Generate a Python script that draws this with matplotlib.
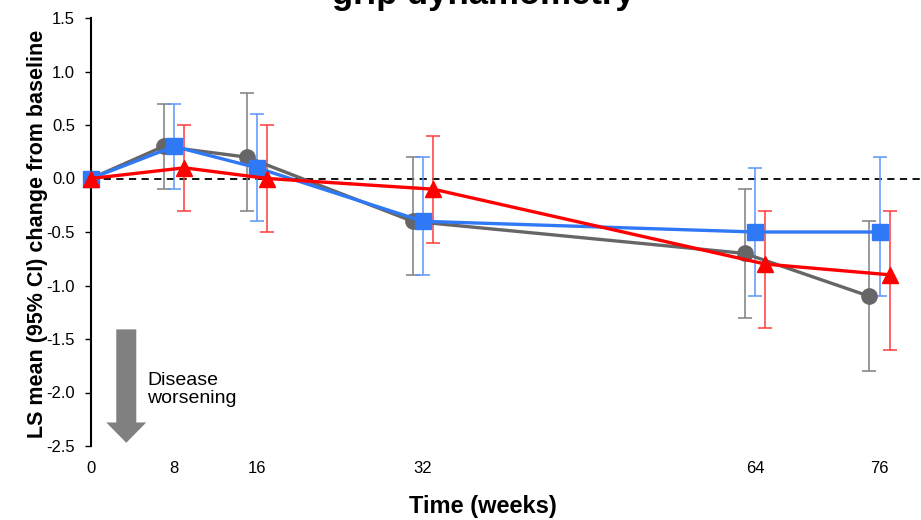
import matplotlib
matplotlib.use("Agg")
import matplotlib.pyplot as plt
from matplotlib.patches import FancyArrow
import numpy as np

plt.rcParams['font.family'] = ['Liberation Sans', 'DejaVu Sans']

weeks = [0, 8, 16, 32, 64, 76]
tick_labels = ["0", "8", "16", "32", "64", "76"]

gray_mean = [0.0, 0.3, 0.2, -0.4, -0.7, -1.1]
gray_lo = [0.0, -0.1, -0.3, -0.9, -1.3, -1.8]
gray_hi = [0.0, 0.7, 0.8, 0.2, -0.1, -0.4]

blue_mean = [0.0, 0.3, 0.1, -0.4, -0.5, -0.5]
blue_lo = [0.0, -0.1, -0.4, -0.9, -1.1, -1.1]
blue_hi = [0.0, 0.7, 0.6, 0.2, 0.1, 0.2]

red_mean = [0.0, 0.1, 0.0, -0.1, -0.8, -0.9]
red_lo = [0.0, -0.3, -0.5, -0.6, -1.4, -1.6]
red_hi = [0.0, 0.5, 0.5, 0.4, -0.3, -0.3]

W, H = 921, 520
fig = plt.figure(figsize=(W / 100, H / 100), dpi=100)
ax = fig.add_axes([91 / W, 1 - 446 / H, (921 - 91) / W, (446 - 18) / H])

wk = np.array(weeks, dtype=float)
offsets = {"gray": -1.0, "blue": 0.0, "red": 1.0}

def xpos(off):
    x = wk + off
    x[0] = 0.0
    return x

series = [
    ("gray", gray_mean, gray_lo, gray_hi, "#666666", "#7f7f7f", "o", 11),
    ("blue", blue_mean, blue_lo, blue_hi, "#2f78f6", "#5c94fa", "s", 11),
    ("red", red_mean, red_lo, red_hi, "#ff0000", "#ff3b3b", "^", 11),
]

ax.axhline(0, color="black", lw=1.3, ls=(0, (4, 3)), zorder=1)

for name, m, lo, hi, col, ecol, mk, ms in series:
    x = xpos(offsets[name])
    m = np.array(m); lo = np.array(lo); hi = np.array(hi)
    ax.errorbar(x[1:], m[1:], yerr=[m[1:] - lo[1:], hi[1:] - m[1:]], fmt="none",
                ecolor=ecol, elinewidth=1.1, capsize=5.3, capthick=1.1, zorder=2)
for name, m, lo, hi, col, ecol, mk, ms in series:
    x = xpos(offsets[name])
    ax.plot(x, m, color=col, lw=2.4, marker=mk, markersize=ms, zorder=3, clip_on=False)

ax.set_xlim(0, 80)
ax.set_ylim(-2.5, 1.5)
yt = np.arange(-2.5, 1.51, 0.5)
ax.set_yticks(yt)
ax.set_yticklabels([f"{v:.1f}" for v in yt], fontsize=12)
ax.set_xticks(weeks)
ax.set_xticklabels(tick_labels, fontsize=12)
ax.tick_params(axis="x", length=0, pad=11)
ax.tick_params(axis="y", length=4.5, width=1, pad=7, direction="out")
for s in ["top", "right", "bottom"]:
    ax.spines[s].set_visible(False)
ax.spines["left"].set_linewidth(1.5)

arr = FancyArrow(3.4, -1.41, 0, -1.06 + 0.19, width=1.93, head_width=3.85,
                 head_length=0.19, length_includes_head=False, color="#808080", lw=0,
                 zorder=2)
ax.add_patch(arr)
ax.text(5.4, -1.97, "Disease\nworsening", fontsize=14, ha="left", va="center",
        linespacing=1.1)

fig.text(38 / W, 1 - 234 / H, "LS mean (95% CI) change from baseline", rotation=90,
         ha="center", va="center", fontsize=15.5, fontweight="bold")
fig.text(483 / W, 1 - 506 / H, "Time (weeks)", ha="center", va="center",
         fontsize=17, fontweight="bold")
fig.text(483 / W, 1 - 4 / H, "grip dynamometry", ha="center", va="baseline",
         fontsize=25, fontweight="bold")

fig.savefig("out.png", dpi=100)
